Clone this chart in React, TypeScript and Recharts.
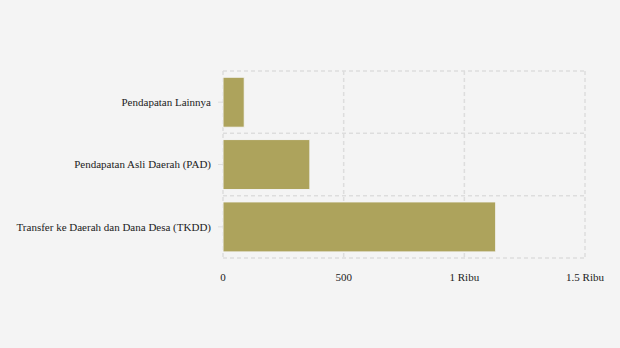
import { Bar, BarChart, CartesianGrid, XAxis, YAxis } from 'recharts'

const categories = [
  'Pendapatan Lainnya',
  'Pendapatan Asli Daerah (PAD)',
  'Transfer ke Daerah dan Dana Desa (TKDD)',
]
const values = [88, 360, 1130]
const xTicks = [0, 500, 1000, 1500]

const data = categories.map((name, i) => ({ name, value: values[i] }))

const FONT = 'Liberation Serif'

const fmtX = (v: number) => {
  if (v >= 1000) return `${v / 1000} Ribu`
  return String(v)
}

const renderCategoryTick = (p: any) => (
  <text
    key={`c-${p.index}`}
    x={p.x}
    y={p.y}
    dy="0.355em"
    textAnchor="end"
    fill="#222"
    fontSize={11}
    fontFamily={FONT}
  >
    {p.payload.value}
  </text>
)

const renderValueTick = (p: any) => (
  <text
    key={`v-${p.index}`}
    x={p.x}
    y={p.y}
    dy="0.71em"
    textAnchor="middle"
    fill="#222"
    fontSize={11}
    fontFamily={FONT}
  >
    {fmtX(p.payload.value)}
  </text>
)

export default function App() {
  return (
    <div
      style={{
        position: 'fixed',
        top: 0,
        left: 0,
        width: 620,
        height: 348,
        background: '#f4f4f4',
        fontFamily: FONT,
      }}
    >
      <BarChart
        width={620}
        height={348}
        data={data}
        layout="vertical"
        margin={{ top: 71, right: 35, bottom: 60, left: 1 }}
      >
        <CartesianGrid
          stroke="#dddddd"
          strokeWidth={1.5}
          strokeDasharray="4 3"
          horizontalCoordinatesGenerator={({ offset }: any) => {
            const t = offset.top
            const h = offset.height
            return [t, t + h / 3, t + (2 * h) / 3, t + h]
          }}
        />
        <XAxis
          type="number"
          domain={[0, 1500]}
          ticks={xTicks}
          axisLine={false}
          tickLine={false}
          tickMargin={9}
          height={30}
          tick={renderValueTick}
        />
        <YAxis
          type="category"
          dataKey="name"
          width={222}
          axisLine={false}
          tickLine={{ stroke: '#dddddd' }}
          tickSize={5}
          tickMargin={7}
          tick={renderCategoryTick}
        />
        <Bar
          dataKey="value"
          fill="#ada35c"
          stroke="#f4f4f4"
          strokeWidth={1}
          isAnimationActive={false}
        />
      </BarChart>
    </div>
  )
}
